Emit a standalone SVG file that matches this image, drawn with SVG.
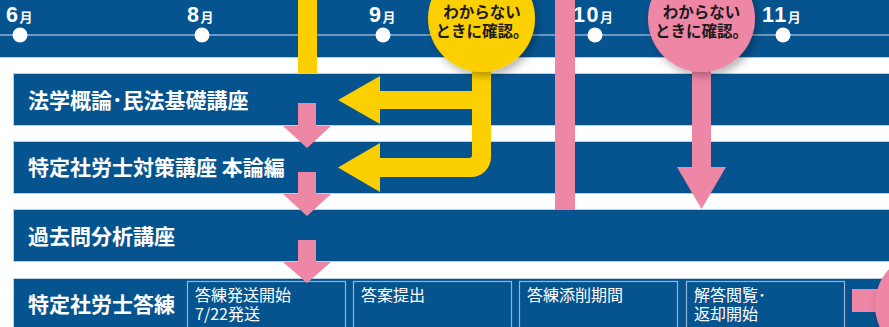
<svg xmlns="http://www.w3.org/2000/svg" width="889" height="327" viewBox="0 0 889 327">
<defs>
<style>
.band{fill:#06548f}
.row{fill:#06548f;stroke:#bcd0e3;stroke-width:1}
.box{fill:none;stroke:#93b4d3;stroke-width:1.2}
.lbl{font-family:"Noto Sans CJK JP","Liberation Sans",sans-serif;font-weight:700;font-size:21px;fill:#ffffff}
.btx{font-family:"Noto Sans CJK JP","Liberation Sans",sans-serif;font-weight:400;font-size:16px;fill:#ffffff}
.mon{font-family:"Liberation Sans","Noto Sans CJK JP",sans-serif;font-weight:700;fill:#ffffff}
.num{font-size:21.5px;letter-spacing:1.5px}
.m{font-size:13px;font-family:"Noto Sans CJK JP",sans-serif}
.dot{fill:#ffffff}
.ctx{font-family:"Noto Sans CJK JP",sans-serif;font-weight:700;font-size:15.5px;fill:#1a1a1a;text-anchor:middle}
.yel{fill:#fcd000}
.pnk{fill:#ee86a6}
</style>
<filter id="sh" x="-30%" y="-30%" width="160%" height="160%">
<feDropShadow dx="3" dy="4" stdDeviation="4" flood-color="#000" flood-opacity="0.3"/>
</filter>
</defs>
<rect width="889" height="327" fill="#ffffff"/>
<g id="timeline">
<rect class="band" x="0" y="0" width="889" height="57"/>
<line x1="0" y1="57.5" x2="889" y2="57.5" stroke="#b3c9de" stroke-width="1"/>
<line x1="0" y1="35" x2="889" y2="35" stroke="#8db1d4" stroke-width="1.5"/>
<circle class="dot" cx="20" cy="35" r="7.5"/>
<circle class="dot" cx="202" cy="35" r="7.5"/>
<circle class="dot" cx="383" cy="35" r="7.5"/>
<circle class="dot" cx="595" cy="35" r="7.5"/>
<circle class="dot" cx="783" cy="35" r="7.5"/>
<text class="mon" x="6" y="22"><tspan class="num">6</tspan><tspan class="m">月</tspan></text>
<text class="mon" x="187" y="22"><tspan class="num">8</tspan><tspan class="m">月</tspan></text>
<text class="mon" x="369" y="22"><tspan class="num">9</tspan><tspan class="m">月</tspan></text>
<text class="mon" x="573" y="22"><tspan class="num">10</tspan><tspan class="m">月</tspan></text>
<text class="mon" x="762" y="22"><tspan class="num">11</tspan><tspan class="m">月</tspan></text>
</g>
<g id="row1">
<rect class="row" x="13.5" y="73.5" width="880" height="52"/>
<text class="lbl" x="28" y="108">法学概論･民法基礎講座</text>
</g>
<g id="row2">
<rect class="row" x="13.5" y="141.5" width="880" height="52"/>
<text class="lbl" x="28" y="175">特定社労士対策講座 本論編</text>
</g>
<g id="row3">
<rect class="row" x="13.5" y="209.5" width="880" height="52"/>
<text class="lbl" x="28" y="244">過去問分析講座</text>
</g>
<g id="row4">
<rect class="row" x="13.5" y="278.5" width="880" height="60"/>
<text class="lbl" x="28" y="312">特定社労士答練</text>
</g>
<g id="box1">
<rect class="box" x="187.5" y="281.5" width="158" height="60"/>
<text class="btx"><tspan x="195" y="300.5">答練発送開始</tspan><tspan x="195" y="320">7/22発送</tspan></text>
</g>
<g id="box2">
<rect class="box" x="353.5" y="281.5" width="158" height="60"/>
<text class="btx" x="361" y="300.5">答案提出</text>
</g>
<g id="box3">
<rect class="box" x="519.5" y="281.5" width="158" height="60"/>
<text class="btx" x="527" y="300.5">答練添削期間</text>
</g>
<g id="box4">
<rect class="box" x="686.5" y="281.5" width="158" height="60"/>
<text class="btx"><tspan x="694" y="300.5">解答閲覧･</tspan><tspan x="694" y="320">返却開始</tspan></text>
</g>
<g id="connectors">
<rect class="yel" x="298" y="0" width="19" height="73"/>
<rect class="pnk" x="555" y="0" width="20" height="210"/>
<path class="yel" d="M491 50 V157 A20 20 0 0 1 471 177 H379 V158 H469 A3 3 0 0 0 472 155 V109 H379 V91 H472 V50 Z"/>
<polygon class="yel" points="338,100 380,76 380,124"/>
<polygon class="yel" points="338,167.5 380,143 380,192"/>
<rect class="pnk" x="692" y="50" width="19" height="118"/>
<polygon class="pnk" points="677,167 726,167 701.5,209"/>
<polygon class="pnk" points="298,103 316,103 316,126 331,126 307,148 283,126 298,126"/>
<polygon class="pnk" points="298,172 316,172 316,194 331,194 307,216 283,194 298,194"/>
<polygon class="pnk" points="298,240 316,240 316,262 331,262 307,283 283,262 298,262"/>
<rect class="pnk" x="852" y="289" width="40" height="23"/>
</g>
<g id="note-yellow">
<circle class="yel" cx="481.5" cy="18.5" r="53.5" filter="url(#sh)"/>
<text class="ctx"><tspan x="482" y="17.5">わからない</tspan><tspan x="482" y="37">ときに確認。</tspan></text>
</g>
<g id="note-pink">
<circle class="pnk" cx="701.5" cy="18.5" r="53.5" filter="url(#sh)"/>
<text class="ctx"><tspan x="701.5" y="17.5">わからない</tspan><tspan x="701.5" y="37">ときに確認。</tspan></text>
</g>
<g id="note-pink2">
<circle class="pnk" cx="928" cy="305" r="53" filter="url(#sh)"/>
</g>
</svg>
